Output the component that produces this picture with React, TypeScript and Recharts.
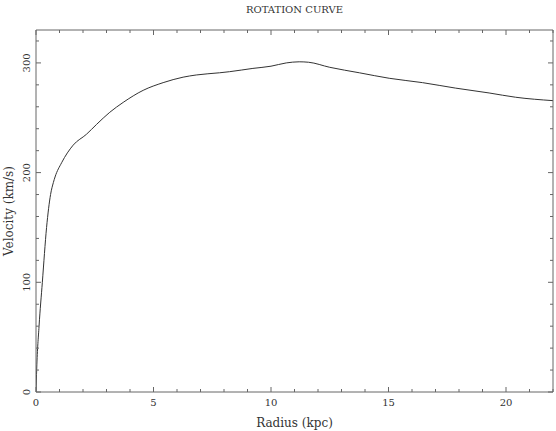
import { LineChart, Line, XAxis, YAxis, Label } from "recharts";

// rotation curve
const radius = [
  0, 0.03, 0.13, 0.27, 0.45, 0.62, 0.74, 0.81, 1.09, 1.58, 2.15, 2.58, 3.14,
  3.71, 4.56, 5.41, 6.26, 6.82, 7.81, 8.24, 9.23, 10.0, 10.65, 11.2, 11.6,
  12.5, 13.76, 15.03, 16.45, 17.86, 19.28, 20.41, 22,
];
const velocity = [
  0, 21, 60, 100, 150, 180, 191, 196, 209, 225, 235, 244, 255, 264, 275, 282,
  287, 289, 291, 292, 295, 297, 300, 301, 300.6, 296, 291, 286, 282, 277,
  272.6, 268.7, 265.6,
];

const xTicks = Array.from({ length: 23 }, (_, i) => i);
const yTicks = Array.from({ length: 17 }, (_, i) => i * 20);
const xMajor = [0, 5, 10, 15, 20];
const yMajor = [0, 100, 200, 300];

const data = radius.map((r, i) => ({ r, v: velocity[i] }));

const FONT = "'DejaVu Serif', 'Liberation Serif', serif";
const FRAME = "#666";
const INK = "#333";

function BottomTick({ x, y, payload }: any) {
  const major = xMajor.includes(payload.value);
  return (
    <g>
      <line x1={x} x2={x} y1={y} y2={y - (major ? 5 : 3)} stroke={FRAME} />
      {major && (
        <text x={x} y={y + 14} textAnchor="middle" fontSize={10} fontFamily={FONT} fill={INK}>
          {payload.value}
        </text>
      )}
    </g>
  );
}

function TopTick({ x, y, payload }: any) {
  const major = xMajor.includes(payload.value);
  return <line x1={x} x2={x} y1={y} y2={y + (major ? 5 : 3)} stroke={FRAME} />;
}

function LeftTick({ x, y, payload }: any) {
  const major = yMajor.includes(payload.value);
  return (
    <g>
      <line x1={x} x2={x + (major ? 5 : 3)} y1={y} y2={y} stroke={FRAME} />
      {major && (
        <text
          transform={`translate(${x - 6},${y}) rotate(-90)`}
          textAnchor="middle"
          fontSize={10}
          fontFamily={FONT}
          fill={INK}
        >
          {payload.value}
        </text>
      )}
    </g>
  );
}

function RightTick({ x, y, payload }: any) {
  const major = yMajor.includes(payload.value);
  return <line x1={x} x2={x - (major ? 5 : 3)} y1={y} y2={y} stroke={FRAME} />;
}

export default function App() {
  return (
    <div style={{ position: "absolute", left: 0, top: 0, background: "#fff" }}>
      <LineChart
        width={556}
        height={431}
        data={data}
        margin={{ top: 29, right: 2, bottom: 38, left: 35 }}
      >
        <XAxis
          xAxisId="b"
          dataKey="r"
          type="number"
          domain={[0, 22]}
          ticks={xTicks}
          interval={0}
          height={1}
          tickSize={0}
          tickMargin={0}
          tick={<BottomTick />}
          stroke={FRAME}
          allowDataOverflow
        >
          <Label
            content={({ viewBox }: any) => (
              <text
                x={viewBox.x + viewBox.width / 2}
                y={viewBox.y + 35}
                textAnchor="middle"
                fontSize={12}
                fontFamily={FONT}
                fill={INK}
              >
                Radius (kpc)
              </text>
            )}
          />
        </XAxis>
        <XAxis
          xAxisId="t"
          dataKey="r"
          type="number"
          orientation="top"
          domain={[0, 22]}
          ticks={xTicks}
          interval={0}
          height={1}
          tickSize={0}
          tickMargin={0}
          tick={<TopTick />}
          stroke={FRAME}
          allowDataOverflow
        >
          <Label
            content={({ viewBox }: any) => (
              <text
                x={viewBox.x + viewBox.width / 2}
                y={13}
                textAnchor="middle"
                fontSize={10}
                fontFamily={FONT}
                fill={INK}
              >
                ROTATION CURVE
              </text>
            )}
          />
        </XAxis>
        <YAxis
          yAxisId="l"
          type="number"
          domain={[0, 330]}
          ticks={yTicks}
          interval={0}
          width={1}
          tickSize={0}
          tickMargin={0}
          tick={<LeftTick />}
          stroke={FRAME}
          allowDataOverflow
        >
          <Label
            content={({ viewBox }: any) => (
              <text
                transform={`translate(${viewBox.x - 22},${viewBox.y + viewBox.height / 2}) rotate(-90)`}
                textAnchor="middle"
                fontSize={12}
                fontFamily={FONT}
                fill={INK}
              >
                Velocity (km/s)
              </text>
            )}
          />
        </YAxis>
        <YAxis
          yAxisId="r"
          orientation="right"
          type="number"
          domain={[0, 330]}
          ticks={yTicks}
          interval={0}
          width={1}
          tickSize={0}
          tickMargin={0}
          tick={<RightTick />}
          stroke={FRAME}
          allowDataOverflow
        />
        <Line
          xAxisId="b"
          yAxisId="l"
          dataKey="v"
          type="monotone"
          stroke={INK}
          strokeWidth={1}
          dot={false}
          isAnimationActive={false}
        />
      </LineChart>
    </div>
  );
}
